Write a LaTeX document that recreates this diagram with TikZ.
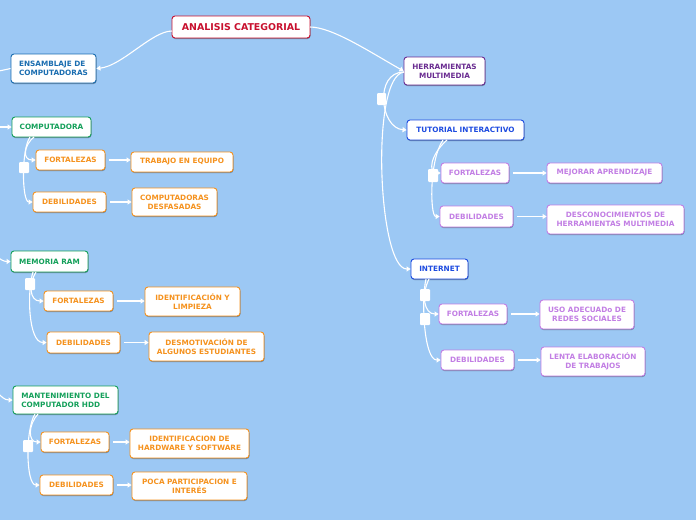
\documentclass[tikz,border=0pt]{standalone}
\usepackage{fontspec}
\setmainfont{DejaVu Sans}
\usetikzlibrary{arrows.meta,shadows}
\definecolor{bg}{HTML}{9CC8F4}
\definecolor{cred}{HTML}{C8102E}
\definecolor{cblue}{HTML}{1A6DB0}
\definecolor{cgreen}{HTML}{14A05A}
\definecolor{corange}{HTML}{F5921E}
\definecolor{cpurple}{HTML}{6A2C91}
\definecolor{cbright}{HTML}{1D4BE0}
\definecolor{cviolet}{HTML}{C27EE4}
\tikzset{
  box/.style={draw, fill=white, rounded corners=3pt, line width=0.9pt,
    font=\bfseries\fontsize{7.3}{8.7}\selectfont, align=center, inner sep=1pt,
    drop shadow={shadow xshift=0.5pt, shadow yshift=-1pt, opacity=0.35, fill=black}},
  sz/.style 2 args={minimum width=#1pt, minimum height=#2pt},
  titlebox/.style={box, draw=cred, text=cred, font=\bfseries\fontsize{9.4}{11}\selectfont},
  bluebox/.style={box, draw=cblue, text=cblue, align=left},
  greenbox/.style={box, draw=cgreen, text=cgreen, align=left},
  orangebox/.style={box, draw=corange, text=corange},
  purplebox/.style={box, draw=cpurple, text=cpurple},
  brightbox/.style={box, draw=cbright, text=cbright},
  violetbox/.style={box, draw=cviolet, text=cviolet},
  toggle/.style={fill=white, rounded corners=1pt, inner sep=0pt},
  conn/.style={draw=white, line width=1.1pt, -{Triangle[width=5pt,length=4pt]}},
  plain/.style={draw=white, line width=1.1pt},
  leafarrow/.style={conn, shorten <=4pt}
}
\begin{document}
\begin{tikzpicture}[x=1pt,y=-1pt]
\fill[bg] (0,0) rectangle (696,520);
\useasboundingbox (0,0) rectangle (696,520);

% nodes
\node[titlebox, sz={138}{22}] (title) at (241,27) {ANALISIS CATEGORIAL};
\node[bluebox, sz={85}{29}] (ens) at (53.5,68.5) {ENSAMBLAJE DE\\COMPUTADORAS};
\node[greenbox, sz={79}{20}] (comp) at (51.5,127) {COMPUTADORA};
\node[orangebox, sz={69}{20}] (f1) at (70.5,160) {FORTALEZAS};
\node[orangebox, sz={102}{20}] (l1) at (182,162) {TRABAJO EN EQUIPO};
\node[orangebox, sz={73}{20}] (d1) at (69.5,202) {DEBILIDADES};
\node[orangebox, sz={85}{28}] (l2) at (174.5,202) {COMPUTADORAS\\DESFASADAS};
\node[greenbox, sz={77}{21}] (mem) at (49.5,261.5) {MEMORIA RAM};
\node[orangebox, sz={69}{20}] (f2) at (78.5,301) {FORTALEZAS};
\node[orangebox, sz={95}{29}] (l3) at (192.5,301.5) {IDENTIFICACIÓN Y\\LIMPIEZA};
\node[orangebox, sz={73}{21}] (d2) at (83.5,342.5) {DEBILIDADES};
\node[orangebox, sz={115}{29}] (l4) at (206.5,346.5) {DESMOTIVACIÓN DE\\ALGUNOS ESTUDIANTES};
\node[greenbox, sz={105}{28}] (mant) at (65.5,400) {MANTENIMIENTO DEL\\COMPUTADOR HDD};
\node[orangebox, sz={68}{20}] (f3) at (75,442) {FORTALEZAS};
\node[orangebox, sz={119}{29}] (l5) at (189.5,443.5) {IDENTIFICACION DE\\HARDWARE Y SOFTWARE};
\node[orangebox, sz={73}{20}] (d3) at (76.5,485) {DEBILIDADES};
\node[orangebox, sz={115}{28}] (l6) at (189.5,486) {POCA PARTICIPACION E\\INTERÉS};

\node[purplebox, sz={81}{28}] (herr) at (444.5,71) {HERRAMIENTAS\\MULTIMEDIA};
\node[brightbox, sz={117}{20}] (tut) at (465.5,130) {TUTORIAL INTERACTIVO};
\node[violetbox, sz={68}{20}] (f4) at (475,173) {FORTALEZAS};
\node[violetbox, sz={115}{20}] (l7) at (604.5,173) {MEJORAR APRENDIZAJE};
\node[violetbox, sz={73}{21}] (d4) at (476.5,216.5) {DEBILIDADES};
\node[violetbox, sz={137}{29}] (l8) at (615.5,219.5) {DESCONOCIMIENTOS DE\\HERRAMIENTAS MULTIMEDIA};
\node[brightbox, sz={57}{20}] (inet) at (439.5,269) {INTERNET};
\node[violetbox, sz={68}{20}] (f5) at (473,314) {FORTALEZAS};
\node[violetbox, sz={94}{29}] (l9) at (587,314.5) {USO ADECUADo DE\\REDES SOCIALES};
\node[violetbox, sz={73}{20}] (d5) at (477.5,360) {DEBILIDADES};
\node[violetbox, sz={104}{29}] (l10) at (593,361.5) {LENTA ELABORACIÓN\\DE TRABAJOS};

% connector anchor coordinates
\coordinate (ts) at (172,31);
\coordinate (te) at (310,27);
\coordinate (oa) at (-20,74);
\coordinate (ob) at (-20,127);
\coordinate (oc) at (-20,250);
\coordinate (od) at (-20,380);
\coordinate (c1a) at (34,137);
\coordinate (c1b) at (30,137);
\coordinate (m1a) at (36,272);
\coordinate (m1b) at (33,272);
\coordinate (h1a) at (38,414);
\coordinate (h1b) at (35,414);
\coordinate (hs) at (404,72);
\coordinate (tsa) at (447,140);
\coordinate (tsb) at (443,140);
\coordinate (isa) at (429,279);
\coordinate (isb) at (426,279);

\begin{scope}
\clip (0,0) rectangle (696,520);
\draw[conn] (ts) .. controls (152,31) and (122,66) .. (ens.east);
\draw[conn] (te) .. controls (332,27) and (370,52) .. (herr.west);
\draw[plain] (ens.west) .. controls (4,70) and (-5,72) .. (oa);
\draw[conn] (ob) -- (comp.west);
\draw[conn] (oc) .. controls (-5,252) and (0,261.5) .. (mem.west);
\draw[conn] (od) .. controls (-5,385) and (0,400) .. (mant.west);

\draw[conn] (c1a) .. controls (24,145) and (22,160) .. (f1.west);
\draw[conn] (c1b) .. controls (21,150) and (22,202) .. (d1.west);
\draw[conn] (m1a) .. controls (28,285) and (30,301) .. (f2.west);
\draw[conn] (m1b) .. controls (27,290) and (28,342.5) .. (d2.west);
\draw[conn] (h1a) .. controls (28,425) and (28,442) .. (f3.west);
\draw[conn] (h1b) .. controls (25,430) and (26,485) .. (d3.west);

\draw[conn] (hs) .. controls (374,72) and (380,128) .. (tut.west);
\draw[conn] (hs) .. controls (370,76) and (378,269) .. (inet.west);
\draw[conn] (tsa) .. controls (430,155) and (428,173) .. (f4.west);
\draw[conn] (tsb) .. controls (429,160) and (430,216.5) .. (d4.west);
\draw[conn] (isa) .. controls (421,295) and (424,314) .. (f5.west);
\draw[conn] (isb) .. controls (421,300) and (424,360) .. (d5.west);

\draw[leafarrow] (f1.east) -- (f1.east -| l1.west);
\draw[leafarrow] (d1.east) -- (d1.east -| l2.west);
\draw[leafarrow] (f2.east) -- (f2.east -| l3.west);
\draw[leafarrow] (d2.east) -- (d2.east -| l4.west);
\draw[leafarrow] (f3.east) -- (f3.east -| l5.west);
\draw[leafarrow] (d3.east) -- (d3.east -| l6.west);
\draw[leafarrow] (f4.east) -- (f4.east -| l7.west);
\draw[leafarrow] (d4.east) -- (d4.east -| l8.west);
\draw[leafarrow] (f5.east) -- (f5.east -| l9.west);
\draw[leafarrow] (d5.east) -- (d5.east -| l10.west);
\end{scope}

% collapse toggles
\node[toggle, minimum width=10pt, minimum height=11pt] (sq1) at (24,167.5) {};
\node[toggle, minimum width=10pt, minimum height=12pt] (sq2) at (30,284) {};
\node[toggle, minimum width=10pt, minimum height=12pt] (sq3) at (28,446) {};
\node[toggle, minimum width=9pt, minimum height=12pt] (sq4) at (381.5,99) {};
\node[toggle, minimum width=10pt, minimum height=13pt] (sq5) at (433,175.5) {};
\node[toggle, minimum width=10pt, minimum height=12pt] (sq6) at (425,295) {};
\node[toggle, minimum width=10pt, minimum height=12pt] (sq7) at (425,319) {};
\end{tikzpicture}
\end{document}
